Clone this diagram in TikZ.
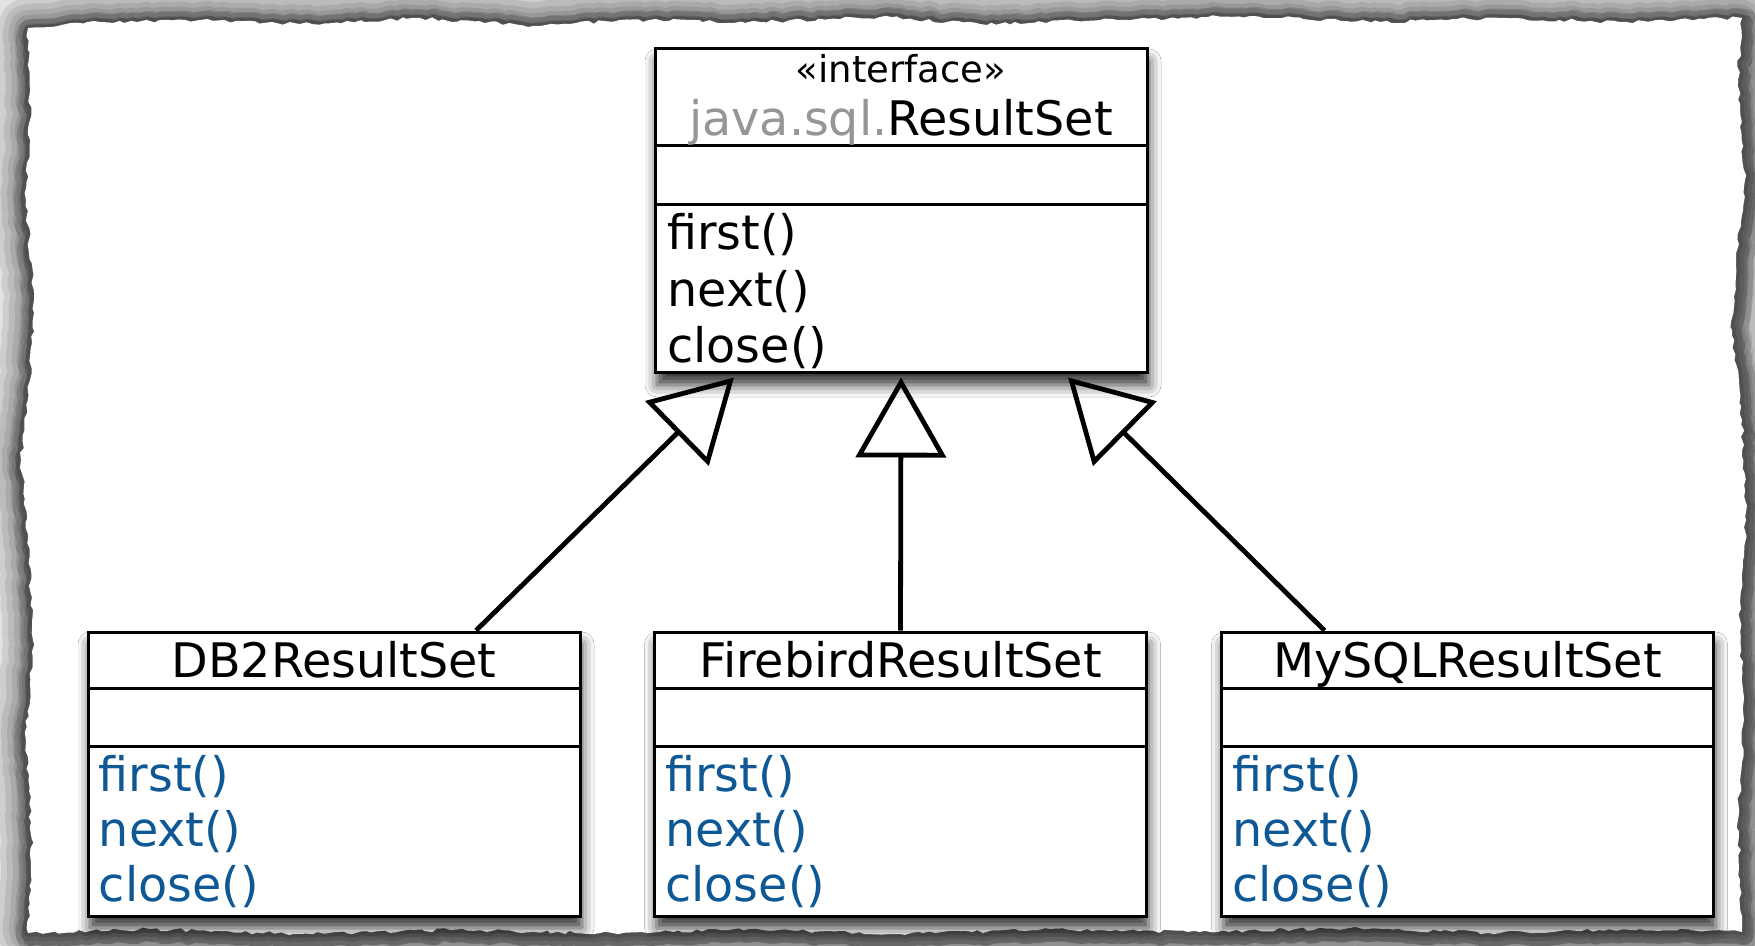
\documentclass[tikz,border=0pt]{standalone}
\usepackage{fontspec}
\setmainfont{DejaVu Sans}
\usetikzlibrary{arrows.meta,shadows.blur,decorations.pathmorphing}
\definecolor{methodblue}{RGB}{14,88,150}
\definecolor{pkggray}{RGB}{150,150,150}
\tikzset{
  classbox/.style={draw=black, line width=1.5pt, fill=white, rectangle, inner sep=0pt,
    blur shadow={shadow xshift=1pt, shadow yshift=-6pt, shadow blur radius=6pt, shadow opacity=80}},
  sepline/.style={line width=1.5pt},
  titletext/.style={anchor=base, font=\fontsize{23.8pt}{28pt}\selectfont, inner sep=0pt},
  stereo/.style={anchor=base, font=\fontsize{18.5pt}{22pt}\selectfont, inner sep=0pt},
  opleft/.style={anchor=base west, font=\fontsize{23.8pt}{28pt}\selectfont, inner sep=0pt},
  opblue/.style={opleft, text=methodblue},
  realize/.style={line width=2.4pt, -{Triangle[open, length=40pt, width=45pt]}},
  torn/.style={decorate, decoration={random steps, segment length=3pt, amplitude=0.9pt}},
}
\def\paperoutline{(28,28) -- (100,22) -- (200,20) -- (300,24) -- (420,18) -- (540,26) -- (620,20) -- (760,22) -- (880,17) -- (980,24) -- (1100,20) -- (1250,16) -- (1380,22) -- (1500,18) -- (1620,22) -- (1742,18)
 -- (1738,80) -- (1745,180) -- (1736,260) -- (1732,330) -- (1742,420) -- (1746,520) -- (1740,620) -- (1744,720) -- (1738,820) -- (1742,932)
 -- (1640,929) -- (1500,933) -- (1350,928) -- (1200,932) -- (1050,929) -- (900,934) -- (750,929) -- (600,933) -- (450,930) -- (300,934) -- (150,929) -- (28,933)
 -- (32,840) -- (26,740) -- (33,640) -- (28,540) -- (21,460) -- (30,380) -- (34,300) -- (26,200) -- (30,120) -- cycle}
\begin{document}
\begin{tikzpicture}[x=0.5pt,y=-0.5pt]
\useasboundingbox (0,0) rectangle (1755,946);
\clip (0,0) rectangle (1755,946);
% background and torn paper
\fill[gray!22] (0,0) rectangle (1755,946);
\foreach \w/\o in {30/0.09,24/0.09,18/0.09,13/0.1,8/0.1,4/0.12}{
  \pgfmathsetseed{11}
  \draw[torn, line width=\w pt, black, opacity=\o, line join=round] \paperoutline;
}
\begin{scope}[shift={(3,5)}]
\foreach \w/\o in {14/0.15,8/0.2}{
  \pgfmathsetseed{11}
  \draw[torn, line width=\w pt, black, opacity=\o, line join=round] \paperoutline;
}
\end{scope}
\pgfmathsetseed{11}
\fill[white, torn] \paperoutline;

% interface box
\node[classbox, minimum width=246pt, minimum height=162pt] (iface) at (901,211) {};
\draw[sepline] ([yshift=-49pt]iface.north west) -- ([yshift=-49pt]iface.north east);
\draw[sepline] ([yshift=-78.5pt]iface.north west) -- ([yshift=-78.5pt]iface.north east);
\node[stereo] (ifst) at (901,83) {«interface»};
\node[titletext] (ifname) at (901,136) {\textcolor{pkggray}{java.sql.}ResultSet};
\node[opleft] (if1) at (667,250) {first()};
\node[opleft] (if2) at (667,307) {next()};
\node[opleft] (if3) at (667,363) {close()};

% implementing classes
\foreach \nm/\cx/\title in {db2/334/DB2ResultSet, fb/900.5/FirebirdResultSet, my/1467.5/MySQLResultSet}{
  \node[classbox, minimum width=246pt, minimum height=142pt] (\nm) at (\cx,774) {};
  \draw[sepline] ([yshift=-29pt]\nm.north west) -- ([yshift=-29pt]\nm.north east);
  \draw[sepline] ([yshift=-58pt]\nm.north west) -- ([yshift=-58pt]\nm.north east);
  \node[titletext] (\nm-t) at (\cx,677) {\title};
  \node[opblue] (\nm-1) at ([xshift=6pt,yshift=-80.5pt]\nm.north west) {first()};
  \node[opblue] (\nm-2) at ([xshift=6pt,yshift=-108pt]\nm.north west) {next()};
  \node[opblue] (\nm-3) at ([xshift=6pt,yshift=-135.5pt]\nm.north west) {close()};
}

% realizations
\draw[realize] ([xshift=71pt]db2.north) -- ([xshift=-83.5pt,yshift=-1.5pt]iface.south);
\draw[realize] (fb.north) -- ([yshift=-1.5pt]iface.south);
\draw[realize] ([xshift=-71.5pt]my.north) -- ([xshift=83.5pt,yshift=-1.5pt]iface.south);
\end{tikzpicture}
\end{document}
